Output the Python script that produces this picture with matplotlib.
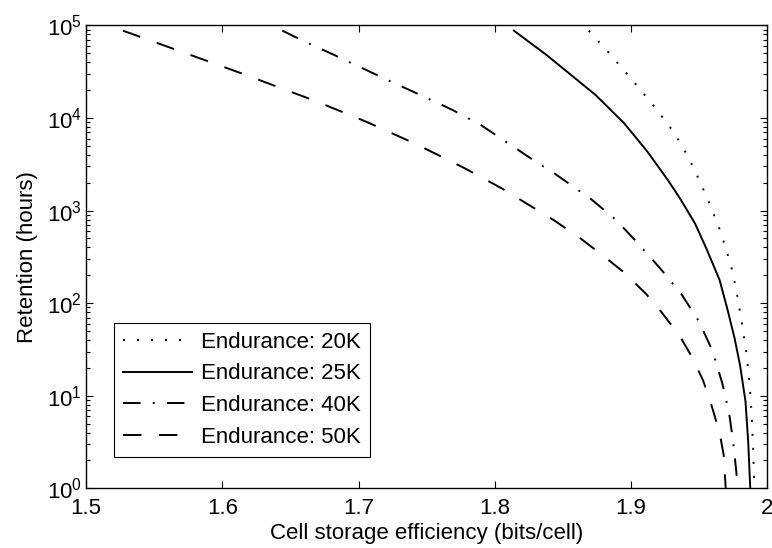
import numpy as np
import matplotlib
matplotlib.use("Agg")
import matplotlib.pyplot as plt
from matplotlib.ticker import LogLocator, NullFormatter

plt.rcParams['font.family'] = ['Liberation Sans', 'DejaVu Sans']
plt.rcParams['mathtext.fontset'] = 'custom'
plt.rcParams['mathtext.rm'] = 'Liberation Sans'
plt.rcParams['mathtext.it'] = 'Liberation Sans:italic'
plt.rcParams['mathtext.bf'] = 'Liberation Sans:bold'
plt.rcParams['font.size'] = 16

# Retention (hours) versus cell storage efficiency (bits/cell)
eff_20k = [1.869, 1.884, 1.904, 1.918, 1.932, 1.942, 1.951, 1.958, 1.965, 1.969,
           1.9735, 1.977, 1.981, 1.9845, 1.987, 1.9885, 1.9897, 1.9905]
ret_20k = [88000, 50100, 22750, 12740, 6840, 3800, 1995, 1148, 631, 417,
           251, 145, 66.1, 30.2, 13.5, 6.31, 2.51, 1.0]

eff_25k = [1.814, 1.838, 1.874, 1.895, 1.912, 1.927, 1.936, 1.947, 1.955, 1.965,
           1.971, 1.976, 1.980, 1.984, 1.986, 1.9875]
ret_25k = [88000, 47970, 17740, 8770, 4340, 2140, 1350, 724, 398, 178,
           83.2, 41.7, 21.4, 8.71, 3.16, 1.0]

eff_40k = [1.644, 1.659, 1.681, 1.703, 1.725, 1.747, 1.769, 1.790, 1.811, 1.830,
           1.843, 1.871, 1.889, 1.905, 1.922, 1.937, 1.950, 1.960, 1.967, 1.972,
           1.975, 1.9785]
ret_40k = [88000, 68550, 48870, 34430, 24320, 17300, 12220, 8356, 5200, 3381,
           2570, 1318, 793, 444, 232, 125, 63.1, 29.9, 13.6, 6.46, 3.16, 1.0]

eff_50k = [1.527, 1.612, 1.668, 1.706, 1.742, 1.778, 1.805, 1.843, 1.862, 1.878,
           1.895, 1.911, 1.922, 1.936, 1.945, 1.953, 1.959, 1.965, 1.968, 1.9695]
ret_50k = [88000, 31190, 15350, 9080, 5250, 2864, 1742, 794, 513, 339,
           214, 126, 81.3, 43.7, 25.7, 14.5, 7.94, 3.98, 2.29, 1.0]

labels = ['Endurance: 20K', 'Endurance: 25K', 'Endurance: 40K', 'Endurance: 50K']
x_ticks = [1.5, 1.6, 1.7, 1.8, 1.9, 2.0]
x_tick_labels = ['1.5', '1.6', '1.7', '1.8', '1.9', '2']

fig = plt.figure(figsize=(7.72, 5.48), dpi=100)
ax = fig.add_axes([0.1115, 0.1089, 0.8824, 0.8446])

lw = 1.4
ax.plot(eff_20k, ret_20k, color='black', lw=lw, linestyle=(0, (1.0, 6.2)),
        label=labels[0])
ax.plot(eff_25k, ret_25k, color='black', lw=lw, linestyle='-', label=labels[1])
ax.plot(eff_40k, ret_40k, color='black', lw=lw,
        linestyle=(0, (9.0, 6.3, 1.0, 6.3)), label=labels[2])
ax.plot(eff_50k, ret_50k, color='black', lw=lw, linestyle=(0, (9.5, 9.0)),
        label=labels[3])

ax.set_yscale('log')
ax.set_xlim(1.5, 2.0)
ax.set_ylim(1, 1e5)
ax.set_xticks(x_ticks)
ax.set_xticklabels(x_tick_labels)
ax.yaxis.set_major_locator(LogLocator(base=10, numticks=10))
ax.yaxis.set_minor_locator(LogLocator(base=10, subs=np.arange(2, 10), numticks=10))
ax.yaxis.set_minor_formatter(NullFormatter())

ax.tick_params(which='both', direction='in', top=True, right=True, width=0.8)
ax.tick_params(which='major', length=5)
ax.tick_params(which='minor', length=3)
ax.tick_params(axis='x', which='major', pad=7)
ax.tick_params(axis='y', which='major', pad=3)
for s in ax.spines.values():
    s.set_linewidth(1.0)

ax.set_xlabel('Cell storage efficiency (bits/cell)', labelpad=3)
ax.set_ylabel('Retention (hours)', labelpad=6)

leg = ax.legend(loc='lower left', bbox_to_anchor=(0.0414, 0.0683),
                borderaxespad=0, frameon=True, fancybox=False,
                edgecolor='black', framealpha=1, handlelength=3.1,
                handletextpad=0.4, labelspacing=0.48, borderpad=0.4)
leg.get_frame().set_linewidth(0.8)

fig.savefig('out.png', dpi=100)
